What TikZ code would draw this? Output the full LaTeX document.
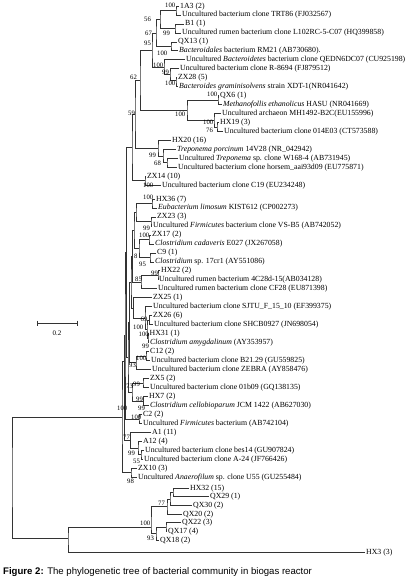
\documentclass[tikz,border=0pt]{standalone}
\usepackage{fontspec}
\setmainfont{Liberation Serif}
\setsansfont{Liberation Sans}
\usetikzlibrary{calc}
\newcommand\clade[5]{\coordinate (#1) at (#2,#3); \draw[tree] (#4) -| (#1) |- (#5);}
\begin{document}
\begin{tikzpicture}[x=1pt,y=-1pt,
  tree/.style={line width=0.55pt, draw=black!80},
  leaf/.style={anchor=west, inner xsep=1pt, inner ysep=0pt, font=\fontsize{7.8}{9}\selectfont, text height=5.5pt, text depth=1.5pt},
  bs/.style={anchor=west, inner sep=0pt, font=\fontsize{6.7}{8}\selectfont, text height=4.6pt, text depth=0pt}]
\useasboundingbox (0,0) rectangle (418,584);
% ---- leaves
\node[leaf] (l1) at (179,6) {1A3 (2)};
\node[leaf] (l2) at (181,14.95) {Uncultured bacterium clone TRT86 (FJ032567)};
\node[leaf] (l3) at (184,23.9) {B1 (1)};
\node[leaf] (l4) at (181,32.85) {Uncultured rumen bacterium clone L102RC-5-C07 (HQ399858)};
\node[leaf] (l5) at (177,41.8) {QX13 (1)};
\node[leaf] (l6) at (178,50.75) {\textit{Bacteroidales} bacterium RM21 (AB730680).};
\node[leaf] (l7) at (185,59.7) {Uncultured \textit{Bacteroidetes} bacterium clone QEDN6DC07 (CU925198)};
\node[leaf] (l8) at (179,68.65) {Uncultured bacterium clone R-8694 (FJ879512)};
\node[leaf] (l9) at (177,77.6) {ZX28 (5)};
\node[leaf] (l10) at (178,86.55) {\textit{Bacteroides graminisolvens} strain XDT-1(NR041642)};
\node[leaf] (l11) at (219,95.5) {QX6 (1)};
\node[leaf] (l12) at (222,104.45) {\textit{Methanofollis ethanolicus} HASU (NR041669)};
\node[leaf] (l13) at (221,113.4) {Uncultured archaeon MH1492-B2C(EU155996)};
\node[leaf] (l14) at (219,122.35) {HX19 (3)};
\node[leaf] (l15) at (223,131.3) {Uncultured bacterium clone 014E03 (CT573588)};
\node[leaf] (l16) at (171,140.25) {HX20 (16)};
\node[leaf] (l17) at (176,149.2) {\textit{Treponema porcinum} 14V28 (NR\_042942)};
\node[leaf] (l18) at (178,158.15) {Uncultured \textit{Treponema} sp. clone W168-4 (AB731945)};
\node[leaf] (l19) at (177,167.1) {Uncultured bacterium clone horsem\_aai93d09 (EU775871)};
\node[leaf] (l20) at (146,176.05) {ZX14 (10)};
\node[leaf] (l21) at (161,185) {Uncultured bacterium clone C19 (EU234248)};
\node[leaf] (l22) at (155,199) {HX36 (7)};
\node[leaf] (l23) at (157,207.97) {\textit{Eubacterium limosum} KIST612 (CP002273)};
\node[leaf] (l24) at (156,216.94) {ZX23 (3)};
\node[leaf] (l25) at (152,225.91) {Uncultured \textit{Firmicutes} bacterium clone VS-B5 (AB742052)};
\node[leaf] (l26) at (151,234.88) {ZX17 (2)};
\node[leaf] (l27) at (154,243.85) {\textit{Clostridium cadaveris} E027 (JX267058)};
\node[leaf] (l28) at (156,252.82) {C9 (1)};
\node[leaf] (l29) at (154,261.79) {\textit{Clostridium} sp. 17cr1 (AY551086)};
\node[leaf] (l30) at (160,270.76) {HX22 (2)};
\node[leaf] (l31) at (158,279.73) {Uncultured rumen bacterium 4C28d-15(AB034128)};
\node[leaf] (l32) at (157,288.7) {Uncultured rumen bacterium clone CF28 (EU871398)};
\node[leaf] (l33) at (152,297.67) {ZX25 (1)};
\node[leaf] (l34) at (152,306.64) {Uncultured bacterium clone SJTU\_F\_15\_10 (EF399375)};
\node[leaf] (l35) at (152,315.61) {ZX26 (6)};
\node[leaf] (l36) at (153,324.58) {Uncultured bacterium clone SHCB0927 (JN698054)};
\node[leaf] (l37) at (148.5,333.55) {HX31 (1)};
\node[leaf] (l38) at (149,342.52) {\textit{Clostridium amygdalinum} (AY353957)};
\node[leaf] (l39) at (149,351.49) {C12 (2)};
\node[leaf] (l40) at (150,360.46) {Uncultured bacterium clone B21.29 (GU559825)};
\node[leaf] (l41) at (151,369.43) {Uncultured bacterium clone ZEBRA (AY858476)};
\node[leaf] (l42) at (149,378.4) {ZX5 (2)};
\node[leaf] (l43) at (149,387.37) {Uncultured bacterium clone 01b09 (GQ138135)};
\node[leaf] (l44) at (148,396.34) {HX7 (2)};
\node[leaf] (l45) at (149,405.31) {\textit{Clostridium cellobioparum} JCM 1422 (AB627030)};
\node[leaf] (l46) at (142,414.28) {C2 (2)};
\node[leaf] (l47) at (142,423.25) {Uncultured \textit{Firmicutes} bacterium (AB742104)};
\node[leaf] (l48) at (151,432.22) {A1 (11)};
\node[leaf] (l49) at (142,441.19) {A12 (4)};
\node[leaf] (l50) at (144,450.16) {Uncultured bacterium clone bes14 (GU907824)};
\node[leaf] (l51) at (143,459.13) {Uncultured bacterium clone A-24 (JF766426)};
\node[leaf] (l52) at (137,468.1) {ZX10 (3)};
\node[leaf] (l53) at (137,477.07) {Uncultured \textit{Anaerofilum} sp. clone U55 (GU255484)};
\node[leaf] (l54) at (189,488) {HX32 (15)};
\node[leaf] (l55) at (209,496.67) {QX29 (1)};
\node[leaf] (l56) at (192,505.33) {QX30 (2)};
\node[leaf] (l57) at (182,514) {QX20 (2)};
\node[leaf] (l58) at (181,522.67) {QX22 (3)};
\node[leaf] (l59) at (167,531.33) {QX17 (4)};
\node[leaf] (l60) at (159,540) {QX18 (2)};
\node[leaf] (l61) at (365,552) {HX3 (3)};
% ---- clades: upper group
\clade{nA}{176}{10.5}{l1.west}{l2.west}
\clade{nB}{175}{28.4}{l3.west}{l4.west}
\clade{n56}{160}{19.4}{nA}{nB}
\clade{nQ}{171}{46.3}{l5.west}{l6.west}
\clade{n67}{156}{32.9}{n56}{nQ}
\clade{nZB}{176}{80.1}{l9.west}{l10.west}
\clade{nRZ}{170}{74.4}{l8.west}{nZB}
\clade{nQE}{164}{67}{l7.west}{nRZ}
\clade{n95}{152}{50}{n67}{nQE}
\clade{nM}{218}{100}{l11.west}{l12.west}
\clade{nH}{217}{126.8}{l14.west}{l15.west}
\clade{nMH}{214}{120.1}{l13.west}{nH}
\clade{nArch}{187}{110}{nM}{nMH}
\clade{n62}{140}{80.7}{n95}{nArch}
\clade{nT68}{167}{162.6}{l18.west}{l19.west}
\clade{nT}{163}{155.9}{l17.west}{nT68}
\clade{nT99}{158}{148.1}{l16.west}{nT}
\clade{n59}{135}{114.4}{n62}{nT99}
\clade{nC19}{145}{180.5}{l20.west}{l21.west}
\clade{nTop}{132}{147.5}{n59}{nC19}
% ---- clades: Firmicutes group
\clade{nHX36}{152}{203.5}{l22.west}{l23.west}
\clade{nZX23}{151}{221.4}{l24.west}{l25.west}
\clade{nF1}{136}{212.5}{nHX36}{nZX23}
\clade{nZX17}{149}{239.4}{l26.west}{l27.west}
\clade{nC9}{150}{257.3}{l28.west}{l29.west}
\clade{nFb}{139}{248.3}{nZX17}{nC9}
\clade{nFa}{134}{230}{nF1}{nFb}
\clade{nHX22}{158}{275.2}{l30.west}{l31.west}
\clade{n85}{141}{282}{nHX22}{l32.west}
\clade{nFc}{132.5}{256}{nFa}{n85}
\clade{nZX26}{149.5}{320.1}{l35.west}{l36.west}
\clade{nHX31}{148}{338}{l37.west}{l38.west}
\clade{nZ2}{147}{329.1}{nZX26}{nHX31}
\clade{nSJ}{145}{317.9}{l34.west}{nZ2}
\clade{nZX25}{133.5}{307.8}{l33.west}{nSJ}
\clade{nFd}{131}{282}{nFc}{nZX25}
\clade{nC12}{146}{356}{l39.west}{l40.west}
\clade{n93}{136}{362.7}{nC12}{l41.west}
\clade{nFe}{129.5}{322}{nFd}{n93}
\clade{nZX5}{143}{382.9}{l42.west}{l43.west}
\clade{nHX7}{143.5}{400.8}{l44.west}{l45.west}
\clade{n73}{132}{391.9}{nZX5}{nHX7}
\clade{nFf}{128}{357}{nFe}{n73}
\clade{nV}{126.5}{252}{nTop}{nFf}
\clade{nC2}{139}{418.8}{l46.west}{l47.west}
\clade{nW}{125}{335}{nV}{nC2}
\clade{n55}{141}{454.6}{l50.west}{l51.west}
\clade{nA99}{138}{447.9}{l49.west}{n55}
\clade{n77}{130.5}{440.1}{l48.west}{nA99}
\clade{nX}{123.8}{361}{nW}{n77}
\clade{nZX10}{131}{472.6}{l52.west}{l53.west}
\clade{nMain}{122}{417}{nX}{nZX10}
% ---- clades: lower group
\clade{nHQ}{173}{492.3}{l54.west}{l55.west}
\clade{n77qa}{170}{498.8}{nHQ}{l56.west}
\clade{n77q}{167}{506.4}{n77qa}{l57.west}
\clade{nQ22}{166}{527}{l58.west}{l59.west}
\clade{n93q}{156}{533.5}{nQ22}{l60.west}
\clade{nQ100}{151}{527}{n77q}{n93q}
\clade{nBot}{68}{538}{nQ100}{l61.west}
\clade{root}{12}{477}{nMain}{nBot}
% ---- bootstrap values
\foreach \bx/\by/\bt in {165/5/100, 144/19/56, 163/33/99, 145/33/67, 144/43/95, 157/53/100,
  130/77/62, 153/65/100, 162/72/99, 165/83/100, 207/94/100, 128/113/59, 175/114/100,
  203/122/100, 206/130/76, 149/155/99, 154/163/68, 143/185/100, 143/197/100, 143/228/99,
  139/235/100, 134/256/8, 139/264/95, 151/273/99, 135/279/85, 140.5/319.5/69, 133/327/100,
  138.5/334.5/100, 142/346/99, 136/358/100, 129/365/93, 126/386/73, 133/384/99, 136/399/99,
  117/408/100, 138/408/99, 131/417/100, 123/437/77, 128/453.5/99, 133/461/55, 127/481/98,
  158/503/77, 140/523/100, 147/538/93}
  \node[bs] at (\bx,\by) {\bt};
% ---- scale bar
\coordinate (sbl) at (37,323);
\coordinate (sbr) at (77,323);
\draw[tree] (sbl) -- (sbr);
\draw[tree] ($(sbl)+(0,-2.5)$) -- ($(sbl)+(0,2.5)$);
\draw[tree] ($(sbr)+(0,-2.5)$) -- ($(sbr)+(0,2.5)$);
\node[font=\fontsize{7}{8}\selectfont, inner sep=0pt] (sbt) at (57,333) {0.2};
% ---- caption
\node[anchor=base west, inner sep=0pt, font=\sffamily\fontsize{9.6}{11}\selectfont] (cap) at (3,574)
  {\textbf{Figure 2:} The phylogenetic tree of bacterial community in biogas reactor};
\end{tikzpicture}
\end{document}
